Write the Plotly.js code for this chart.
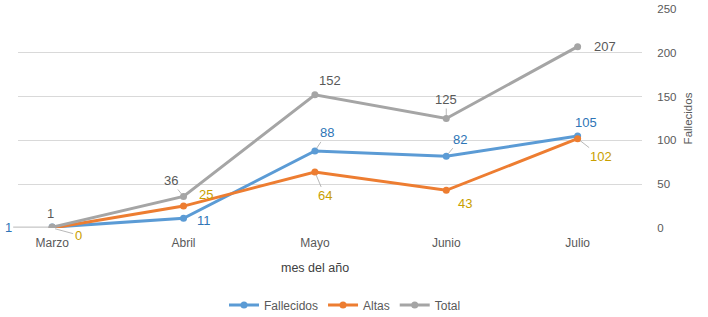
<!DOCTYPE html>
<html>
<head>
<meta charset="utf-8">
<script src="https://cdn.plot.ly/plotly-3.0.1.min.js"></script>
<style>html,body{margin:0;padding:0;background:#fff;}#chart{width:708px;height:317px;}</style>
</head>
<body>
<div id="chart"></div>
<script>
const months = ["Marzo", "Abril", "Mayo", "Junio", "Julio"];
const fallecidos = [1, 11, 88, 82, 105];
const altas = [0, 25, 64, 43, 102];
const total = [1, 36, 152, 125, 207];
const yTicks = [0, 50, 100, 150, 200, 250];

// label offsets in px (ax, ay) and whether a leader line is drawn
const fallOff = [[-44, 0, 1], [20, 2, 0], [12, -18, 1], [14, -17, 1], [8, -14, 0]];
const altOff = [[26, 7, 1], [22, -12, 0], [10, 24, 1], [19, 13, 0], [23, 18, 1]];
const totOff = [[-2, -14, 0], [-13, -16, 1], [15, -14, 0], [0, -19, 1], [27, 0, 0]];

const cBlue = "#5B9BD5", cOrange = "#ED7D31", cGray = "#A5A5A5";
const lBlue = "#2E75B6", lGold = "#C9A000", lGray = "#595959";
const FONT = "Liberation Sans, Arial, sans-serif";

function tr(name, ys, color) {
  return {x: months.map((m, i) => i), y: ys, name: name, type: "scatter", mode: "lines+markers",
    line: {color: color, width: 3}, marker: {color: color, size: 7}};
}
function labels(ys, offs, color) {
  return ys.map((v, i) => ({
    x: i, y: v, xref: "x", yref: "y", text: String(v),
    showarrow: true, ax: offs[i][0], ay: offs[i][1], arrowhead: 0, arrowwidth: 0.8,
    arrowcolor: offs[i][2] ? "#A6A6A6" : "rgba(0,0,0,0)", standoff: 3,
    font: {family: FONT, size: 13, color: color}
  }));
}

const data = [tr("Fallecidos", fallecidos, cBlue), tr("Altas", altas, cOrange), tr("Total", total, cGray)];
const annotations = [].concat(labels(total, totOff, lGray), labels(altas, altOff, lGold), labels(fallecidos, fallOff, lBlue));
annotations.push({x: 2, y: (228 - 268) / 219, xref: "x", yref: "paper", yanchor: "middle",
  text: "mes del año", showarrow: false, font: {family: FONT, size: 12.5, color: "#404040"}});

const layout = {
  width: 708, height: 317,
  margin: {l: 18, r: 66, t: 9, b: 89},
  paper_bgcolor: "#fff", plot_bgcolor: "#fff",
  font: {family: FONT, size: 11, color: "#595959"},
  showlegend: true,
  legend: {orientation: "h", xref: "container", yref: "container",
    x: 345 / 708, xanchor: "center", y: (317 - 305) / 317, yanchor: "middle",
    font: {size: 12, color: "#595959"}},
  xaxis: {range: [-0.26, 4.49], tickvals: [0, 1, 2, 3, 4], ticktext: months,
    showgrid: false, zeroline: false, showline: false, ticks: "outside", ticklen: 4,
    tickcolor: "rgba(0,0,0,0)", tickfont: {size: 12, color: "#595959"}},
  yaxis: {range: [0, 250], tickvals: yTicks, side: "right", showgrid: true, gridcolor: "#D9D9D9",
    gridwidth: 1, zeroline: false, showline: false, ticks: "outside", ticklen: 12,
    tickcolor: "rgba(0,0,0,0)", tickfont: {size: 11.5, color: "#595959"},
    title: {text: "Fallecidos", font: {size: 11.5, color: "#595959"}, standoff: 8}},
  annotations: annotations
};
Plotly.newPlot("chart", data, layout, {displayModeBar: false, staticPlot: true});
</script>
</body>
</html>
